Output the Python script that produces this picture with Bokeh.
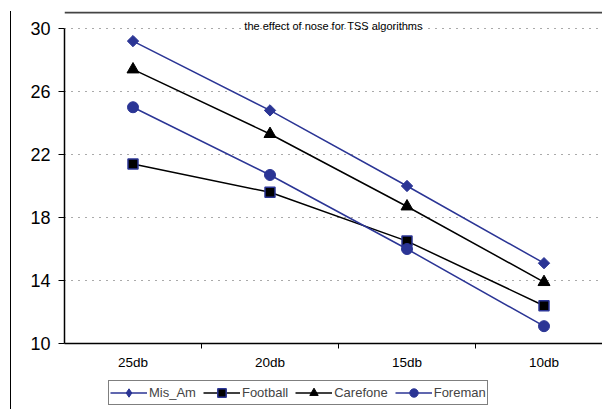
import math
from bokeh.plotting import figure
from bokeh.layouts import column
from bokeh.models import Range1d, FixedTicker, Legend, LegendItem, Label, Span
from bokeh.embed import file_html
from bokeh.resources import INLINE

categories = ["25db", "20db", "15db", "10db"]
mis_am = [29.2, 24.8, 20.0, 15.1]
football = [21.4, 19.6, 16.5, 12.4]
carefone = [27.4, 23.3, 18.7, 13.9]
foreman = [25.0, 20.7, 16.0, 11.1]
y_ticks = [10, 14, 18, 22, 26, 30]
series_names = ["Mis_Am", "Football", "Carefone", "Foreman"]
title_text = "the effect of nose for TSS algorithms"

BLUE = "#2b3595"
FONT = "Liberation Sans"

xs = [i + 0.5 for i in range(len(categories))]
X_END = 3.927
Y_TOP = 31.079  # frame reaches the chart box's top edge

p = figure(width=591, height=367, output_backend="svg", toolbar_location=None,
           x_range=Range1d(0, X_END), y_range=Range1d(10, Y_TOP),
           min_border_left=53, min_border_right=0, min_border_top=0,
           min_border_bottom=35)
p.outline_line_color = None
p.background_fill_color = "white"
p.border_fill_color = "white"

# top edge of the chart box
p.add_layout(Span(location=Y_TOP - 0.06, dimension="width", line_color="#444444", line_width=2))

# title inside the box
p.add_layout(Label(x=X_END / 2, y=30, text=title_text, text_align="center",
                   text_baseline="alphabetic", y_offset=2, text_font=FONT,
                   text_font_size="11px", text_color="black"))

# axes
p.xaxis.ticker = FixedTicker(ticks=xs, minor_ticks=[1, 2, 3])
p.xaxis.major_label_overrides = {x: c for x, c in zip(xs, categories)}
p.xaxis.major_tick_out = 0
p.xaxis.major_tick_in = 0
p.xaxis.minor_tick_out = 5
p.xaxis.minor_tick_in = 0
p.xaxis.minor_tick_line_color = "black"
p.xaxis.axis_line_color = "black"
p.xaxis.axis_line_width = 1.5
p.xaxis.major_label_text_font = FONT
p.xaxis.major_label_text_font_size = "13.5px"
p.xaxis.major_label_text_color = "black"
p.xaxis.major_label_standoff = 6

p.yaxis.ticker = FixedTicker(ticks=y_ticks, minor_ticks=[])
p.yaxis.bounds = (10, 30)
p.yaxis.major_tick_out = 6
p.yaxis.major_tick_in = 0
p.yaxis.major_tick_line_color = "black"
p.yaxis.axis_line_color = "black"
p.yaxis.axis_line_width = 1.5
p.yaxis.major_label_text_font = FONT
p.yaxis.major_label_text_font_size = "18px"
p.yaxis.major_label_text_color = "black"
p.yaxis.major_label_standoff = 8

p.xgrid.grid_line_color = None
p.ygrid.grid_line_color = "#555555"
p.ygrid.grid_line_dash = "1 6"
p.ygrid.grid_line_width = 1

# series styles
styles = [
    dict(color=BLUE, marker="square", angle=math.pi / 4, size=8, fill=BLUE, edge=BLUE, lw=1,
         legend_marker="diamond"),
    dict(color="black", marker="square", angle=0, size=10, fill="black", edge=BLUE, lw=1.5,
         legend_marker="square"),
    dict(color="black", marker="triangle", angle=0, size=12, fill="black", edge="black", lw=1,
         legend_marker="triangle"),
    dict(color=BLUE, marker="circle", angle=0, size=11, fill=BLUE, edge=BLUE, lw=1,
         legend_marker="circle"),
]
series_values = [mis_am, football, carefone, foreman]

for vals, st in zip(series_values, styles):
    p.line(xs, vals, line_color=st["color"], line_width=1.5)
    p.scatter(xs, vals, marker=st["marker"], size=st["size"], angle=st["angle"],
              fill_color=st["fill"], line_color=st["edge"], line_width=st["lw"])

# legend strip below: same series drawn into an out-of-view range, only the legend shows
lg = figure(width=591, height=31, output_backend="svg", toolbar_location=None,
            x_range=Range1d(100, 101), y_range=Range1d(100, 101),
            x_axis_type=None, y_axis_type=None,
            min_border_left=53, min_border_right=0, min_border_top=0, min_border_bottom=0)
lg.outline_line_color = None
lg.xgrid.grid_line_color = None
lg.ygrid.grid_line_color = None
lg.border_fill_color = "white"
lg.background_fill_color = "white"

items = []
for name, vals, st in zip(series_names, series_values, styles):
    r1 = lg.line(xs, vals, line_color=st["color"], line_width=1.5)
    r2 = lg.scatter(xs, vals, marker=st["legend_marker"], size=st["size"],
                    fill_color=st["fill"], line_color=st["edge"], line_width=st["lw"])
    items.append(LegendItem(label=name, renderers=[r1, r2]))

legend = Legend(items=items, orientation="horizontal", location=(44, 4))
legend.label_text_font = FONT
legend.label_text_font_size = "13px"
legend.border_line_color = "black"
legend.border_line_width = 1
legend.padding = 1
legend.margin = 0
legend.spacing = 7
legend.glyph_width = 37
legend.glyph_height = 21
legend.label_standoff = 2
legend.label_height = 14
legend.label_width = 10
legend.background_fill_alpha = 1
lg.add_layout(legend, "center")

layout = column(p, lg, spacing=0, margin=(11, 0, 0, 10),
                styles={"border-left": "1px solid #000"})
open("out.html", "w").write(file_html(layout, INLINE))
